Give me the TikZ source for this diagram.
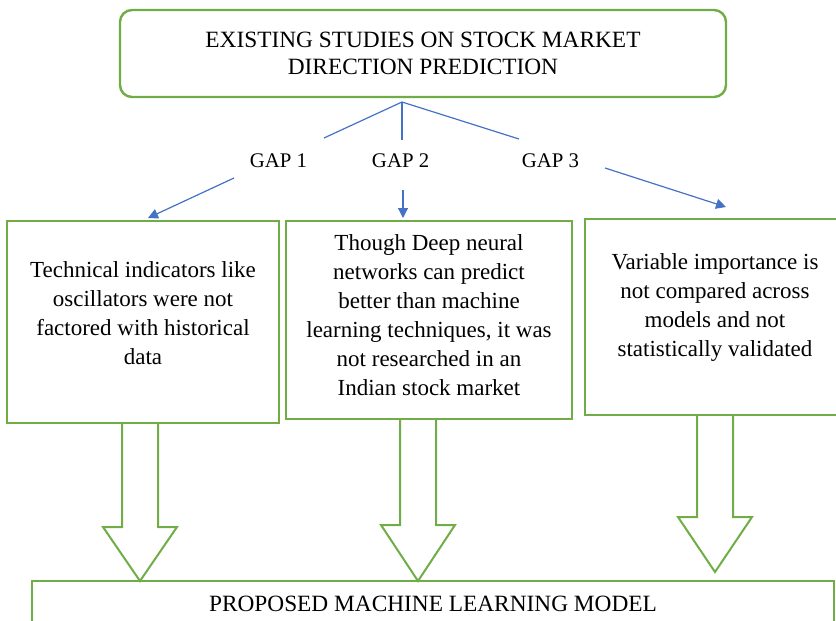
\documentclass[tikz,border=0pt]{standalone}
\usepackage{fontspec}
\setmainfont{Liberation Serif}
\usetikzlibrary{arrows.meta,calc,positioning}
\definecolor{boxgreen}{HTML}{70AD47}
\definecolor{linkblue}{HTML}{4472C4}

\begin{document}
\begin{tikzpicture}[x=0.75pt,y=-0.75pt,>={Triangle[length=7.5pt,width=7.5pt]},
  gapbox/.style={draw=boxgreen,line width=1.5pt,inner sep=0pt},
  boxtext/.style={align=center,inner sep=0pt,font=\fontsize{17.25}{21.75}\selectfont},
  gaplabel/.style={inner sep=2pt,font=\fontsize{15.6}{18}\selectfont},
  link/.style={draw=linkblue,line width=0.9pt},
  hollow/.style={draw=boxgreen,line width=1.5pt,line join=miter}]
  \clip (0,0) rectangle (836,621);

  % Boks med eksisterende studier
  \node[draw=boxgreen,line width=1.8pt,rounded corners=9pt,minimum width=454.5pt,
    minimum height=65.25pt,align=center,font=\fontsize{17.5}{20.6}\selectfont]
    (studies) at (423,53.5) {EXISTING STUDIES ON STOCK MARKET\\DIRECTION PREDICTION};

  % Forgrening mod hullerne
  \coordinate (fork) at (402,102);
  \coordinate (fork1) at (324,138);
  \coordinate (fork2) at (402,140);
  \coordinate (fork3) at (519,139);
  \draw[link] (fork) -- (fork1);
  \draw[link] (fork) -- (fork2);
  \draw[link] (fork) -- (fork3);

  % Hul-navne
  \node[gaplabel] (gap1) at (278.5,161) {GAP 1};
  \node[gaplabel] (gap2) at (400.6,161) {GAP 2};
  \node[gaplabel] (gap3) at (550.5,161) {GAP 3};

  % Hul-bokse
  \node[gapbox,minimum width=204pt,minimum height=151.5pt] (gap1box) at (143,322) {};
  \node[boxtext,yshift=6.75pt] (gap1text) at (gap1box)
    {Technical indicators like\\oscillators were not\\factored with historical\\data};
  \node[gapbox,minimum width=214.5pt,minimum height=148.5pt] (gap2box) at (429,320) {};
  \node[boxtext,yshift=3.4pt] (gap2text) at (gap2box)
    {Though Deep neural\\networks can predict\\better than machine\\learning techniques, it was\\not researched in an\\Indian stock market};
  \node[gapbox,minimum width=195pt,minimum height=147pt] (gap3box) at (715,317) {};
  \node[boxtext,yshift=7.1pt] (gap3text) at (gap3box)
    {Variable importance is\\not compared across\\models and not\\statistically validated};

  % Pile fra hul-navne til bokse
  \coordinate (from1) at (234,178);
  \coordinate (to1) at (148,218);
  \coordinate (from2) at (403,190);
  \coordinate (to2) at (403,218);
  \coordinate (from3) at (605,168);
  \coordinate (to3) at (726,207);
  \draw[link,->] (from1) -- (to1);
  \draw[link,->] (from2) -- (to2);
  \draw[link,->] (from3) -- (to3);

  % Foreslaaet model
  \node[draw=boxgreen,line width=1.5pt,minimum width=601.5pt,minimum height=34.5pt,
    font=\fontsize{17.5}{20.6}\selectfont] (model) at (433,604)
    {PROPOSED MACHINE LEARNING MODEL};

  % Hule blokpile
  \foreach \cx/\ty/\ny/\by in {140/424/527/581, 418/419/525/581, 715/415/517/572}
    \draw[hollow] (\cx-18,\ty) -- (\cx-18,\ny) -- (\cx-37,\ny) -- (\cx,\by)
      -- (\cx+37,\ny) -- (\cx+18,\ny) -- (\cx+18,\ty);
\end{tikzpicture}
\end{document}
